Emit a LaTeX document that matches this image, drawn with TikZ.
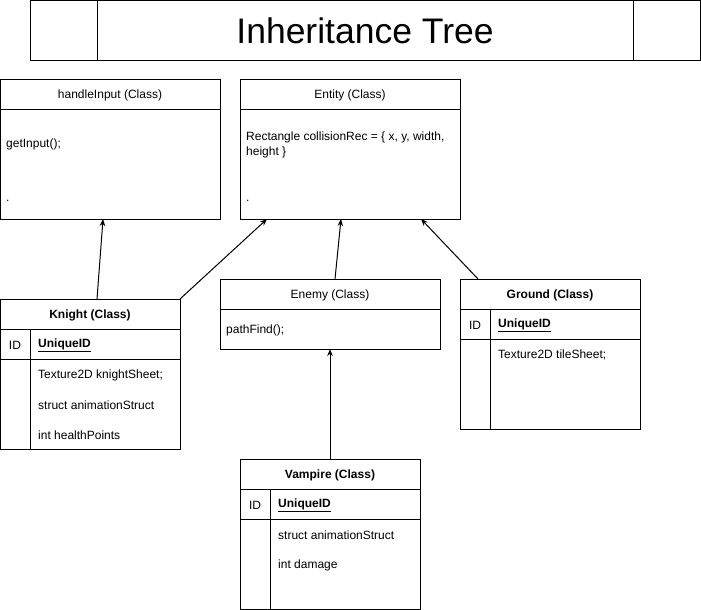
\documentclass[tikz,border=0pt]{standalone}
\usepackage{fontspec}
\setmainfont{Liberation Sans}
\usetikzlibrary{arrows.meta}
\begin{document}
\begin{tikzpicture}[x=1pt,y=-1pt,
  box/.style={draw=black,line width=1pt,anchor=north west,inner sep=0pt,fill=white},
  sep/.style={draw=black,line width=1pt},
  lbl/.style={font=\fontsize{12}{14}\selectfont,inner sep=0pt,yshift=-1pt},
  lft/.style={lbl,anchor=west},
  hd/.style={lbl,font=\fontsize{12}{14}\selectfont\bfseries},
  arr/.style={draw=black,line width=1pt,-{Stealth[length=7pt,width=5.5pt]}}]
\useasboundingbox (0,0) rectangle (701,610);
% title
\node[box,minimum width=670,minimum height=60] (title) at (30,0) {};
\draw[sep] (97,0) -- (97,60) (633,0) -- (633,60);
\node[inner sep=0pt,font=\fontsize{35.5}{40}\selectfont] (titletext) at (365,31) {Inheritance Tree};
% handleInput
\node[box,minimum width=220,minimum height=140] (hi) at (0,79) {};
\draw[sep] (0,109) -- (220,109);
\node[lbl] (hiname) at (110,94) {handleInput (Class)};
\node[lft] (hia) at (6,143) {getInput();};
\node[lft] (hib) at (6,200) {.};
% Entity
\node[box,minimum width=220,minimum height=140] (en) at (240,79) {};
\draw[sep] (240,109) -- (460,109);
\node[lbl] (enname) at (350,94) {Entity (Class)};
\node[lft] (ena) at (246,136) {Rectangle collisionRec = \{ x, y, width,};
\node[lft] (enb) at (246,151) {height \}};
\node[lft] (enc) at (246,200) {.};
% Knight
\node[box,minimum width=180,minimum height=150] (kn) at (0,299) {};
\draw[sep] (0,329) -- (180,329) (0,359) -- (180,359) (30,329) -- (30,449);
\node[hd] (knname) at (90,314) {Knight (Class)};
\node[lbl] (knid) at (15,344) {ID};
\node[hd,anchor=west] (knuid) at (38,344) {\underline{UniqueID}};
\node[lft] (kna) at (38,374) {Texture2D knightSheet;};
\node[lft] (knb) at (38,404) {struct animationStruct};
\node[lft] (knc) at (38,434) {int healthPoints};
% Enemy
\node[box,minimum width=220,minimum height=70] (em) at (220,279) {};
\draw[sep] (220,309) -- (440,309);
\node[lbl] (emname) at (330,294) {Enemy (Class)};
\node[lft] (ema) at (226,329) {pathFind();};
% Ground
\node[box,minimum width=180,minimum height=150] (gr) at (460,279) {};
\draw[sep] (460,309) -- (640,309) (460,339) -- (640,339) (490,309) -- (490,429);
\node[hd] (grname) at (550,294) {Ground (Class)};
\node[lbl] (grid) at (475,324) {ID};
\node[hd,anchor=west] (gruid) at (498,324) {\underline{UniqueID}};
\node[lft] (gra) at (498,354) {Texture2D tileSheet;};
% Vampire
\node[box,minimum width=180,minimum height=150] (va) at (240,459) {};
\draw[sep] (240,489) -- (420,489) (240,519) -- (420,519) (270,489) -- (270,609);
\node[hd] (vaname) at (330,474) {Vampire (Class)};
\node[lbl] (vaid) at (255,504) {ID};
\node[hd,anchor=west] (vauid) at (278,504) {\underline{UniqueID}};
\node[lft] (vaa) at (278,534) {struct animationStruct};
\node[lft] (vab) at (278,564) {int damage};
% connector end points
\coordinate (knA) at (97,299);
\coordinate (knB) at (180,299);
\coordinate (hiIn) at (103,219);
\coordinate (enIn1) at (267,219);
\coordinate (enIn2) at (341,219);
\coordinate (enIn3) at (421,219);
\coordinate (emOut) at (335,279);
\coordinate (grOut) at (478,279);
\coordinate (emIn) at (330,349);
\coordinate (vaOut) at (330,459);
\draw[arr] (knA) -- (hiIn);
\draw[arr] (knB) -- (enIn1);
\draw[arr] (emOut) -- (enIn2);
\draw[arr] (grOut) -- (enIn3);
\draw[arr] (vaOut) -- (emIn);
\end{tikzpicture}
\end{document}
